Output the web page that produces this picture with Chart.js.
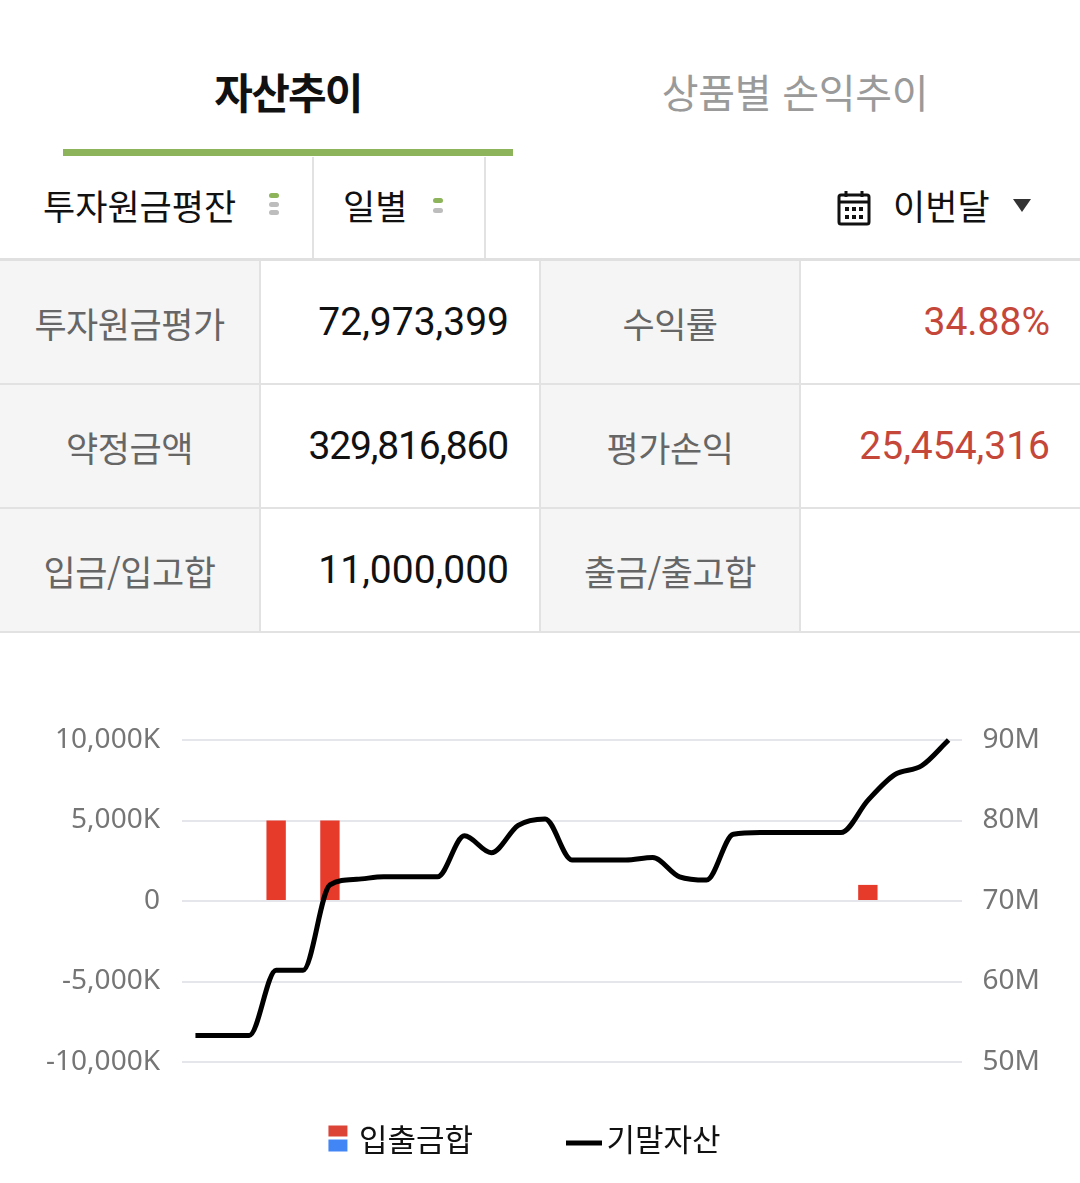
<!DOCTYPE html>
<html lang="ko">
<head>
<meta charset="utf-8">
<script src="https://cdn.jsdelivr.net/npm/chart.js@4.4.1/dist/chart.umd.min.js"></script>
<style>
  html, body { margin: 0; padding: 0; }
  body {
    width: 1080px; height: 1183px; overflow: hidden; position: relative;
    background: #fff; font-family: "Noto Sans CJK KR", "Noto Sans", sans-serif; color: #111;
  }
  .abs { position: absolute; }
  .tab { top: 61px; height: 60px; line-height: 60px; transform: translateX(-50%); white-space: nowrap; }
  .tab.on { left: 288px; font-size: 42px; font-weight: 700; letter-spacing: -1.8px; color: #111; }
  .tab.off { left: 795px; font-size: 40px; color: #9a9a9a; letter-spacing: -0.3px; }
  .tabbar { left: 63px; top: 149px; width: 450px; height: 7px; background: #8db45a; }
  .filter { top: 180px; height: 50px; line-height: 50px; font-size: 35px; color: #111; white-space: nowrap; }
  .vline { top: 157px; width: 2px; height: 101px; background: #e2e2e2; }
  .pill { width: 10px; height: 5px; border-radius: 3px; background: #bdbdbd; }
  .pill.g { background: #8db45a; }
  .tri { left: 1013px; top: 199px; width: 0; height: 0;
    border-left: 9px solid transparent; border-right: 9px solid transparent; border-top: 13px solid #333; }
  .grid {
    left: 0; top: 258px; width: 1080px;
    display: grid; grid-template-columns: 259px 278px 258px 279px; grid-template-rows: 122px 122px 122px;
    gap: 2px; background: #e2e2e2; border-top: 3px solid #e0e0e0; border-bottom: 2px solid #e2e2e2;
  }
  .grid div { display: flex; align-items: center; background: #fff; }
  .grid .lab { justify-content: center; background: #f5f5f5; color: #666; font-size: 35px; letter-spacing: -0.5px; }
  .grid .val { justify-content: flex-end; padding-right: 30px; font-family: Roboto, sans-serif; font-size: 39px; color: #111; }
  .grid .val.tight { letter-spacing: -1.2px; padding-right: 31px; }
  .grid .red { color: #c4473a; }
  #chartBox { left: 0; top: 690px; width: 1080px; height: 493px; }
</style>
</head>
<body>

<div class="abs tab on">자산추이</div>
<div class="abs tab off">상품별 손익추이</div>
<div class="abs tabbar"></div>

<div class="abs filter" style="left:43px">투자원금평잔</div>
<div class="abs pill g" style="left:269px;top:193px"></div>
<div class="abs pill" style="left:269px;top:202px"></div>
<div class="abs pill" style="left:269px;top:210px"></div>
<div class="abs vline" style="left:312px"></div>
<div class="abs filter" style="left:343px">일별</div>
<div class="abs pill g" style="left:433px;top:198px"></div>
<div class="abs pill" style="left:433px;top:208px"></div>
<div class="abs vline" style="left:484px"></div>
<svg class="abs" style="left:837px;top:190px" width="34" height="36" viewBox="0 0 34 36">
  <rect x="2" y="5" width="30" height="29" rx="2" fill="none" stroke="#111" stroke-width="3"/>
  <line x1="2" y1="12" x2="32" y2="12" stroke="#111" stroke-width="3"/>
  <line x1="9" y1="1" x2="9" y2="7" stroke="#111" stroke-width="3"/>
  <line x1="25" y1="1" x2="25" y2="7" stroke="#111" stroke-width="3"/>
  <g fill="#111">
    <rect x="8" y="17" width="4" height="4"/><rect x="15" y="17" width="4" height="4"/><rect x="22" y="17" width="4" height="4"/>
    <rect x="8" y="25" width="4" height="4"/><rect x="15" y="25" width="4" height="4"/><rect x="22" y="25" width="4" height="4"/>
  </g>
</svg>
<div class="abs filter" style="left:893px">이번달</div>
<div class="abs tri"></div>

<div class="abs grid">
  <div class="lab">투자원금평가</div><div class="val">72,973,399</div>
  <div class="lab">수익률</div><div class="val red">34.88%</div>
  <div class="lab">약정금액</div><div class="val tight">329,816,860</div>
  <div class="lab">평가손익</div><div class="val red">25,454,316</div>
  <div class="lab">입금/입고합</div><div class="val">11,000,000</div>
  <div class="lab">출금/출고합</div><div class="val"></div>
</div>

<div class="abs" id="chartBox"><canvas id="assetChart"></canvas></div>

<script>
// days of this month shown on the (hidden) x axis
const days = ['1', '2', '3', '4', '5', '6', '7', '8', '9', '10', '11', '12', '13', '14', '15',
              '16', '17', '18', '19', '20', '21', '22', '23', '24', '25', '26', '27', '28', '29'];

// 입출금합 (won)
const flows = [0, 0, 0, 5000000, 0, 5000000, 0, 0, 0, 0, 0, 0, 0, 0, 0,
               0, 0, 0, 0, 0, 0, 0, 0, 0, 0, 1000000, 0, 0, 0];

// 기말자산 (won)
const assets = [53300000, 53300000, 53300000, 61400000, 61400000, 72000000, 72700000, 73000000,
                73000000, 73000000, 78100000, 76000000, 79400000, 80200000, 75100000, 75100000,
                75100000, 75400000, 73000000, 72600000, 78300000, 78500000, 78500000, 78500000,
                78500000, 82500000, 85700000, 86800000, 90000000];

const flowTicks = { min: -10000000, max: 10000000, step: 5000000 };
const assetTicks = { min: 50000000, max: 90000000, step: 10000000 };

const legendNames = ['입출금합', '기말자산'];

// legend markers: red/blue split box for the bars, thick dash for the line
function flowIcon() {
  const c = document.createElement('canvas');
  c.width = 66; c.height = 30;
  const g = c.getContext('2d');
  g.fillStyle = '#db4437'; g.fillRect(46, 1, 19, 11);
  g.fillStyle = '#4285f4'; g.fillRect(46, 15, 19, 12);
  return c;
}
function lineIcon() {
  const c = document.createElement('canvas');
  c.width = 80; c.height = 30;
  const g = c.getContext('2d');
  g.fillStyle = '#000'; g.fillRect(43, 16, 36, 5);
  return c;
}
const icons = [flowIcon(), lineIcon()];

const tickFont = { family: '"Noto Sans", sans-serif', size: 28 };

new Chart(document.getElementById('assetChart'), {
  type: 'bar',
  data: {
    labels: days,
    datasets: [{
      label: legendNames[0],
      data: flows,
      yAxisID: 'yFlow',
      order: 1,
      backgroundColor: ctx => (ctx.raw < 0 ? '#4285f4' : '#e63a2b'),
      borderWidth: 0
    }, {
      type: 'line',
      label: legendNames[1],
      data: assets,
      yAxisID: 'yAsset',
      order: 0,
      borderColor: '#000',
      borderWidth: 5,
      pointRadius: 0,
      cubicInterpolationMode: 'monotone',
      clip: false
    }]
  },
  options: {
    responsive: true,
    maintainAspectRatio: false,
    animation: false,
    layout: { padding: { top: 50, right: 72, bottom: 18, left: 0 } },
    plugins: {
      tooltip: { enabled: false },
      legend: {
        position: 'bottom',
        labels: {
          usePointStyle: true,
          pointStyleWidth: 56,
          padding: 62,
          color: '#111',
          font: { family: '"Noto Sans CJK KR", sans-serif', size: 31 },
          generateLabels: chart => legendNames.map((name, i) => ({
            text: name,
            pointStyle: icons[i],
            datasetIndex: i,
            hidden: false,
            lineWidth: 0,
            fontColor: '#111'
          }))
        }
      }
    },
    scales: {
      x: { display: false },
      yFlow: {
        position: 'left',
        min: flowTicks.min,
        max: flowTicks.max,
        afterFit: s => { s.width = 182; },
        border: { display: false },
        grid: { color: '#e4e6ec', lineWidth: 2, drawTicks: false },
        ticks: {
          stepSize: flowTicks.step,
          padding: 22,
          color: '#757575',
          font: tickFont,
          callback: v => (v === 0 ? '0' : (v / 1000).toLocaleString('en-US') + 'K')
        }
      },
      yAsset: {
        position: 'right',
        min: assetTicks.min,
        max: assetTicks.max,
        // labels sit outside this narrow box; keep its padding from pushing the plot
        afterFit: s => { s.width = 46; s.paddingTop = 0; s.paddingBottom = 0; },
        border: { display: false },
        grid: { display: false, drawTicks: false },
        ticks: {
          mirror: true,
          stepSize: assetTicks.step,
          padding: 78,
          color: '#757575',
          font: tickFont,
          callback: v => (v / 1000000) + 'M'
        }
      }
    }
  }
});
</script>
</body>
</html>
